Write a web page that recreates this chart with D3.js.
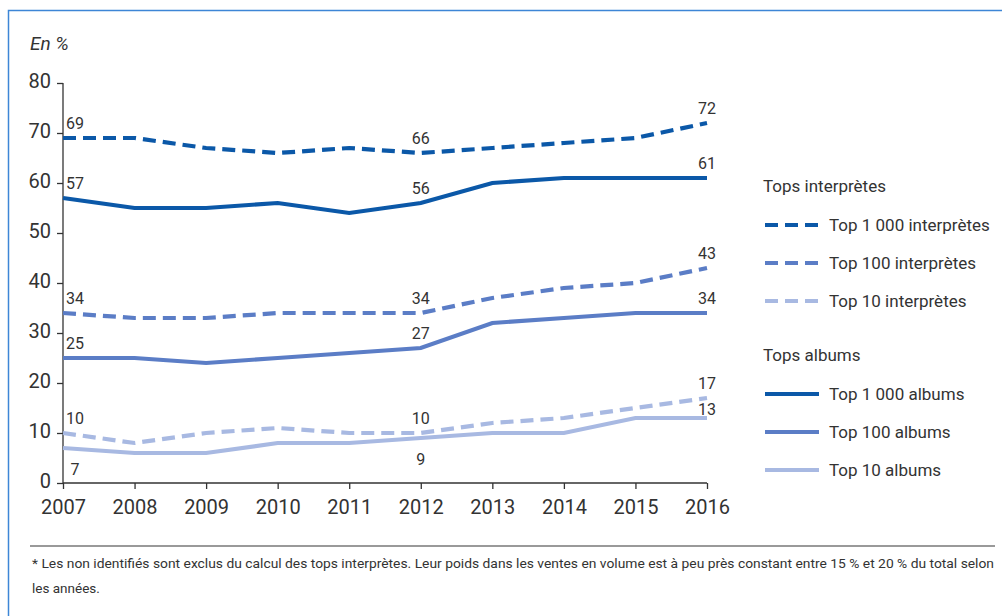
<!DOCTYPE html>
<html>
<head>
<meta charset="utf-8">
<script src="https://cdn.jsdelivr.net/npm/d3@7"></script>
<style>
  body { margin: 0; background: #fff; }
  svg text { font-family: Roboto, "DejaVu Sans", sans-serif; fill: #333; }
</style>
</head>
<body>
<svg id="vis" width="1002" height="616"></svg>
<script>
// data
const years = [2007, 2008, 2009, 2010, 2011, 2012, 2013, 2014, 2015, 2016];
const top1000Interpretes = [69, 69, 67, 66, 67, 66, 67, 68, 69, 72];
const top100Interpretes  = [34, 33, 33, 34, 34, 34, 37, 39, 40, 43];
const top10Interpretes   = [10, 8, 10, 11, 10, 10, 12, 13, 15, 17];
const top1000Albums = [57, 55, 55, 56, 54, 56, 60, 61, 61, 61];
const top100Albums  = [25, 25, 24, 25, 26, 27, 32, 33, 34, 34];
const top10Albums   = [7, 6, 6, 8, 8, 9, 10, 10, 13, 13];
const yTicks = [0, 10, 20, 30, 40, 50, 60, 70, 80];
const labelYears = [2007, 2012, 2016];

const dark = '#0b58a8', mid = '#5b7dc6', light = '#a8b9e2';

const series = [
  { name: 'Top 1 000 interprètes', values: top1000Interpretes, color: dark, dashed: true, below: false },
  { name: 'Top 100 interprètes', values: top100Interpretes, color: mid, dashed: true, below: false },
  { name: 'Top 10 interprètes', values: top10Interpretes, color: light, dashed: true, below: false },
  { name: 'Top 1 000 albums', values: top1000Albums, color: dark, dashed: false, below: false },
  { name: 'Top 100 albums', values: top100Albums, color: mid, dashed: false, below: false },
  { name: 'Top 10 albums', values: top10Albums, color: light, dashed: false, below: true }
];

const svg = d3.select('#vis');

// frame
svg.append('path')
  .attr('d', 'M8.5,616 L8.5,10.5 L1002,10.5')
  .attr('fill', 'none').attr('stroke', '#3d86d6').attr('stroke-width', 1.5);

const x = d3.scaleLinear().domain([2007, 2016]).range([63, 707]);
const y = d3.scaleLinear().domain([0, 80]).range([483, 83]);

// y axis
const yAxis = svg.append('g').attr('transform', 'translate(63,0)')
  .call(d3.axisLeft(y).tickValues(yTicks).tickSize(6).tickPadding(6));
yAxis.select('.domain').attr('stroke', '#333').attr('stroke-width', 1.3).attr('d', 'M0,83 V483');
yAxis.selectAll('.tick line').attr('stroke', '#333').attr('stroke-width', 1.3);
yAxis.selectAll('.tick text').style('font-size', '20px').attr('fill', '#333').attr('dy', '0.2em');

// x axis
const xAxis = svg.append('g').attr('transform', 'translate(0,483)')
  .call(d3.axisBottom(x).tickValues(years).tickFormat(d3.format('d')).tickSize(-8).tickPadding(17));
xAxis.select('.domain').attr('stroke', '#333').attr('stroke-width', 1.3).attr('d', 'M63,0 H707');
xAxis.selectAll('.tick line').attr('stroke', '#333').attr('stroke-width', 1.3).attr('y2', 6);
xAxis.selectAll('.tick text').style('font-size', '20px').attr('fill', '#333');

svg.append('text').attr('x', 30).attr('y', 50)
  .style('font-size', '19px').style('font-style', 'italic').attr('fill', '#555')
  .text('En %');

const line = d3.line()
  .x((d, i) => x(years[i]))
  .y(d => y(d));

// draw light first so dark lines sit on top
series.slice().reverse().forEach(s => {
  svg.append('path')
    .datum(s.values)
    .attr('d', line)
    .attr('fill', 'none')
    .attr('stroke', s.color)
    .attr('stroke-width', 4.2)
    .attr('stroke-dasharray', s.dashed ? '13,7' : null);
});

// value labels
series.forEach(s => {
  labelYears.forEach(yr => {
    const i = years.indexOf(yr);
    const v = s.values[i];
    let lx = x(yr);
    if (yr === 2007) lx += 12;
    let ly = s.below ? y(v) + 27 : y(v) - 9;
    if (s.name === 'Top 10 albums' && yr === 2016) ly = y(v) - 3;
    svg.append('text')
      .attr('x', lx).attr('y', ly)
      .attr('text-anchor', 'middle')
      .style('font-size', '16px')
      .text(v);
  });
});

// legend
const legend = svg.append('g');
const groups = [
  { title: 'Tops interprètes', y: 192, items: series.slice(0, 3) },
  { title: 'Tops albums', y: 361, items: series.slice(3) }
];
groups.forEach(g => {
  legend.append('text').attr('x', 763).attr('y', g.y)
    .style('font-size', '17px').text(g.title);
  g.items.forEach((s, k) => {
    const ly = g.y + 39 + k * 38;
    legend.append('line')
      .attr('x1', 765).attr('x2', 819)
      .attr('y1', ly - 6).attr('y2', ly - 6)
      .attr('stroke', s.color).attr('stroke-width', 4.2)
      .attr('stroke-dasharray', s.dashed ? '13,7' : null);
    legend.append('text').attr('x', 829).attr('y', ly)
      .style('font-size', '17px').text(s.name);
  });
});

// footnote
svg.append('line').attr('x1', 30).attr('x2', 995).attr('y1', 546).attr('y2', 546)
  .attr('stroke', '#777').attr('stroke-width', 1.3);
svg.append('text').attr('x', 32).attr('y', 568).style('font-size', '13.5px').attr('fill', '#444')
  .attr('textLength', 962).attr('lengthAdjust', 'spacingAndGlyphs')
  .text('* Les non identifiés sont exclus du calcul des tops interprètes. Leur poids dans les ventes en volume est à peu près constant entre 15 % et 20 % du total selon');
svg.append('text').attr('x', 32).attr('y', 593).style('font-size', '13.5px').attr('fill', '#444')
  .text('les années.');
</script>
</body>
</html>
